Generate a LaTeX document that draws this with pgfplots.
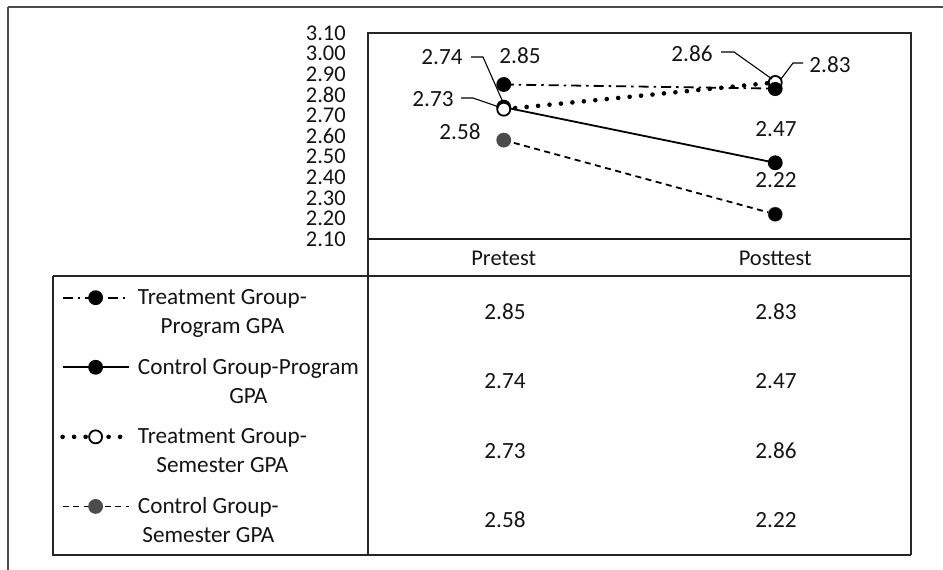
\documentclass[border=0pt]{standalone}
\usepackage{pgfplots}
\pgfplotsset{compat=1.18}
\usepackage{fontspec}
\setmainfont{Carlito}
\definecolor{txt}{HTML}{141414}
\begin{document}
\begin{tikzpicture}[x=1pt,y=1pt,font=\fontsize{23.2}{29}\selectfont,text=txt]
\useasboundingbox (0,0) rectangle (943,570);
% outer frame
\draw[line width=1.6pt, black!70] (8,563) -- (943,563) (8,563) -- (8,0);
\begin{axis}[
  at={(368pt,331pt)}, anchor=south west,
  width=543pt, height=206pt, scale only axis,
  xmin=-0.5, xmax=1.5, ymin=2.10, ymax=3.10,
  xtick={0,1}, xticklabels={Pretest,Posttest},
  ytick={2.1,2.2,2.3,2.4,2.5,2.6,2.7,2.8,2.9,3.0,3.1},
  yticklabel style={/pgf/number format/fixed, /pgf/number format/fixed zerofill, /pgf/number format/precision=2},
  /pgf/number format/assume math mode=true,
  yticklabel style={inner sep=0pt, anchor=east, xshift=-22pt},
  xticklabel style={inner sep=0pt, anchor=base, yshift=-27pt},
  tick label style={font=\fontsize{22.5}{22}\selectfont, text=txt},
  major tick length=0pt,
  axis line style={line width=1.4pt, black!85},
  clip=false,
  legend style={at={(-0.567,-0.234)}, anchor=north west, draw=none, fill=none,
    inner sep=0pt, row sep=19.5pt, column sep=5pt,
    nodes={align=center, inner sep=2pt, font=\fontsize{23.2}{29}\selectfont, text=txt}},
  legend cell align=left,
  legend image code/.code={\draw[yshift=14.5pt,mark repeat=2,mark phase=2,#1] plot coordinates {(0pt,0pt) (33pt,0pt) (66pt,0pt)};},
]
\addplot[black, line width=1.8pt, dash pattern=on 10pt off 5pt on 2.5pt off 5pt,
  mark=*, mark size=6.5pt, mark options={solid, fill=black}]
  coordinates {(0,2.85) (1,2.83)};
\addlegendentry{Treatment Group-\\Program GPA}
\addplot[black, line width=1.8pt, solid,
  mark=*, mark size=6.5pt, mark options={solid, fill=black}]
  coordinates {(0,2.74) (1,2.47)};
\addlegendentry{Control Group-Program\\GPA}
\addplot[black, line width=4.6pt, line cap=round, dash pattern=on 0pt off 11.5pt,
  mark=*, mark size=6.5pt, mark options={solid, line width=1.8pt, fill=white}]
  coordinates {(0,2.73) (1,2.86)};
\addlegendentry{Treatment Group-\\Semester GPA}
\addplot[black, line width=1.8pt, dash pattern=on 6pt off 4.5pt,
  mark=*, mark size=6.5pt, mark options={solid, draw=black!70, fill=black!70}]
  coordinates {(0,2.58) (1,2.22)};
\addlegendentry{Control Group-\\Semester GPA}
\addplot[only marks, mark=*, mark size=6.5pt, black, forget plot]
  coordinates {(1,2.22)};
\addplot[only marks, mark=*, mark size=6.5pt, black, forget plot]
  coordinates {(1,2.83)};
\end{axis}
% thick x axis line
\draw[line width=2.8pt, black!90] (368,331) -- (911,331);
% data table lines
\draw[line width=1.4pt, black!85] (368,331) -- (368,15);
\draw[line width=1.4pt, black!85] (911,331) -- (911,15);
\draw[line width=1.4pt, black!85] (53,294) -- (911,294);
\draw[line width=1.4pt, black!85] (53,294) -- (53,15) -- (911,15);
% table values
\node at (505,258) {2.85};  \node at (776,258) {2.83};
\node at (505,189) {2.74};  \node at (776,189) {2.47};
\node at (505,119) {2.73};  \node at (776,119) {2.86};
\node at (505,50) {2.58};   \node at (776,50) {2.22};
% data labels
\node at (520,514) {2.85};
\node at (442,513) {2.74};
\draw[line width=1.1pt, black] (471,513) -- (483,513) -- (502,470);
\node at (433,471) {2.73};
\draw[line width=1.1pt, black] (461,472) -- (473,472) -- (499,463);
\node at (460,438) {2.58};
\node at (692,516) {2.86};
\draw[line width=1.1pt, black] (721,518) -- (734,518) -- (772,491);
\node at (830,505) {2.83};
\draw[line width=1.1pt, black] (803,507) -- (793,507) -- (781,491);
\node at (776,441) {2.47};
\node at (776,390) {2.22};
\end{tikzpicture}
\end{document}
